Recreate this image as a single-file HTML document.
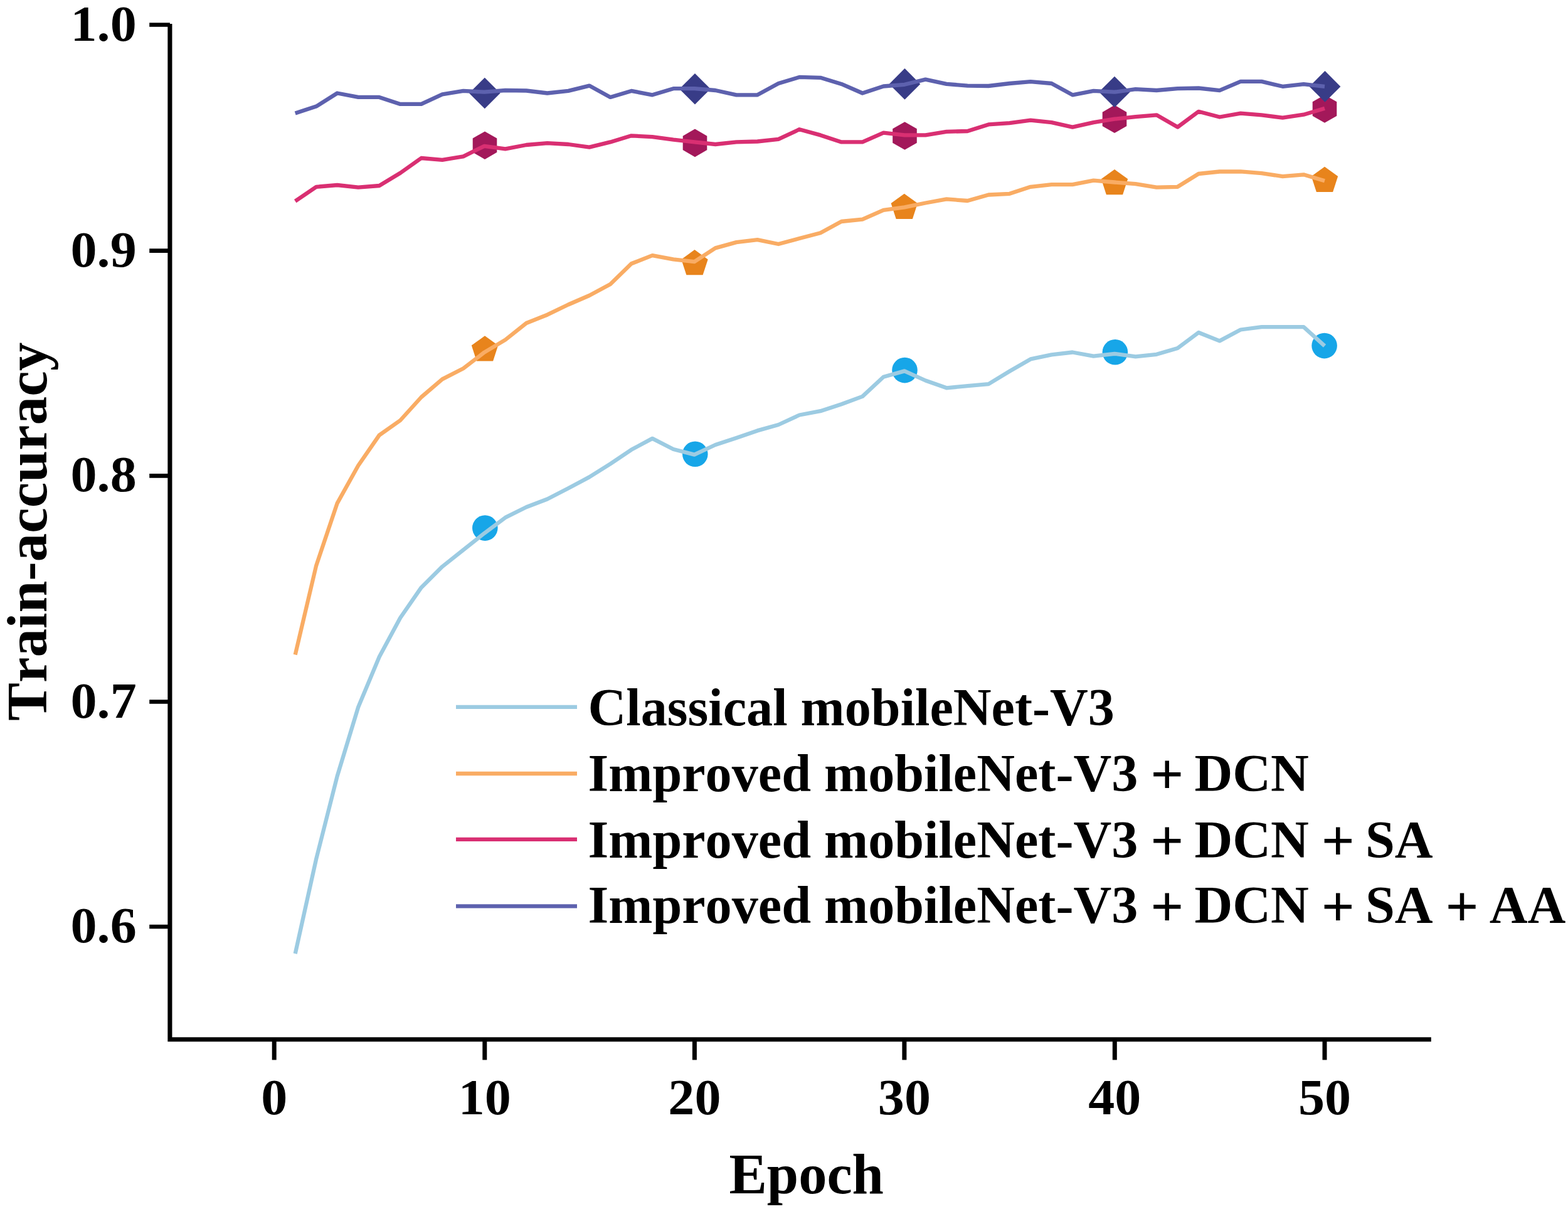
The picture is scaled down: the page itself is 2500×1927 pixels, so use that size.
<!DOCTYPE html>
<html><head><meta charset="utf-8"><title>Train-accuracy</title>
<style>
html,body{margin:0;padding:0;background:#fff;}
svg{display:block;}
text{font-kerning:none;font-family:"Liberation Serif","Times New Roman",serif;font-weight:bold;fill:#000;}
.tk{font-size:80.5px;}
.lg{font-size:84.2px;}
.ax{font-size:91.3px;}
</style></head>
<body>
<svg width="2500" height="1927" viewBox="0 0 2500 1927">
<rect width="2500" height="1927" fill="#fff"/>
<path d="M270.9,38 V1656.8 H2281.8" fill="none" stroke="#000" stroke-width="7.1" stroke-linecap="butt" stroke-linejoin="miter"/>
<line x1="238.2" y1="39.5" x2="270.9" y2="39.5" stroke="#000" stroke-width="6.7"/>
<text transform="translate(217.7,64.5) scale(1.045,1)" text-anchor="end" class="tk">1.0</text>
<line x1="238.2" y1="399.6" x2="270.9" y2="399.6" stroke="#000" stroke-width="6.7"/>
<text transform="translate(217.7,424.6) scale(1.045,1)" text-anchor="end" class="tk">0.9</text>
<line x1="238.2" y1="758.3" x2="270.9" y2="758.3" stroke="#000" stroke-width="6.7"/>
<text transform="translate(217.7,783.3) scale(1.045,1)" text-anchor="end" class="tk">0.8</text>
<line x1="238.2" y1="1118.5" x2="270.9" y2="1118.5" stroke="#000" stroke-width="6.7"/>
<text transform="translate(217.7,1143.5) scale(1.045,1)" text-anchor="end" class="tk">0.7</text>
<line x1="238.2" y1="1477" x2="270.9" y2="1477" stroke="#000" stroke-width="6.7"/>
<text transform="translate(217.7,1502.0) scale(1.045,1)" text-anchor="end" class="tk">0.6</text>
<line x1="437.2" y1="1656.8" x2="437.2" y2="1689.4" stroke="#000" stroke-width="7"/>
<text transform="translate(437.2,1776) scale(1.045,1)" text-anchor="middle" class="tk">0</text>
<line x1="772.8" y1="1656.8" x2="772.8" y2="1689.4" stroke="#000" stroke-width="7"/>
<text transform="translate(772.8,1776) scale(1.045,1)" text-anchor="middle" class="tk">10</text>
<line x1="1107.4" y1="1656.8" x2="1107.4" y2="1689.4" stroke="#000" stroke-width="7"/>
<text transform="translate(1107.4,1776) scale(1.045,1)" text-anchor="middle" class="tk">20</text>
<line x1="1441.9" y1="1656.8" x2="1441.9" y2="1689.4" stroke="#000" stroke-width="7"/>
<text transform="translate(1441.9,1776) scale(1.045,1)" text-anchor="middle" class="tk">30</text>
<line x1="1777.3" y1="1656.8" x2="1777.3" y2="1689.4" stroke="#000" stroke-width="7"/>
<text transform="translate(1777.3,1776) scale(1.045,1)" text-anchor="middle" class="tk">40</text>
<line x1="2112.0" y1="1656.8" x2="2112.0" y2="1689.4" stroke="#000" stroke-width="7"/>
<text transform="translate(2112.0,1776) scale(1.045,1)" text-anchor="middle" class="tk">50</text>

<circle cx="773.3" cy="841.6" r="20.3" fill="#17a6e8"/><polygon points="773.0,535.2 794.2,550.6 786.1,575.5 759.9,575.5 751.8,550.6" fill="#e8841c"/><polygon points="773.0,209.4 792.3,220.5 792.3,242.8 773.0,254.0 753.7,242.8 753.7,220.5" fill="#a3185a"/><polygon points="772.8,123.7 797.6,148.5 772.8,173.3 748.0,148.5" fill="#383c87"/><circle cx="1108.3" cy="723.8" r="20.3" fill="#17a6e8"/><polygon points="1107.5,398.0 1128.7,413.4 1120.6,438.3 1094.4,438.3 1086.3,413.4" fill="#e8841c"/><polygon points="1108.0,205.6 1127.3,216.8 1127.3,239.1 1108.0,250.2 1088.7,239.1 1088.7,216.8" fill="#a3185a"/><polygon points="1108.0,116.9 1132.8,141.7 1108.0,166.5 1083.2,141.7" fill="#383c87"/><circle cx="1442.5" cy="590.1" r="20.3" fill="#17a6e8"/><polygon points="1441.8,308.7 1463.0,324.1 1454.9,349.0 1428.7,349.0 1420.6,324.1" fill="#e8841c"/><polygon points="1442.5,194.2 1461.8,205.3 1461.8,227.7 1442.5,238.8 1423.2,227.7 1423.2,205.3" fill="#a3185a"/><polygon points="1442.5,109.1 1467.3,133.9 1442.5,158.7 1417.7,133.9" fill="#383c87"/><circle cx="1777.9" cy="561.3" r="20.3" fill="#17a6e8"/><polygon points="1777.0,269.9 1798.2,285.3 1790.1,310.2 1763.9,310.2 1755.8,285.3" fill="#e8841c"/><polygon points="1777.0,167.5 1796.3,178.7 1796.3,201.0 1777.0,212.1 1757.7,201.0 1757.7,178.7" fill="#a3185a"/><polygon points="1777.0,121.7 1801.8,146.5 1777.0,171.3 1752.2,146.5" fill="#383c87"/><circle cx="2111.6" cy="551.1" r="20.3" fill="#17a6e8"/><polygon points="2112.0,265.7 2133.2,281.1 2125.1,306.0 2098.9,306.0 2090.8,281.1" fill="#e8841c"/><polygon points="2112.0,151.2 2131.3,162.3 2131.3,184.7 2112.0,195.8 2092.7,184.7 2092.7,162.3" fill="#a3185a"/><polygon points="2112.5,113.1 2137.3,137.9 2112.5,162.7 2087.7,137.9" fill="#383c87"/>

<polyline points="470.7,1520.0 504.2,1369.0 537.7,1237.0 571.2,1127.0 604.7,1047.0 638.2,984.7 671.7,936.4 705.2,903.1 738.7,876.5 772.2,849.9 805.7,824.9 839.2,808.3 872.6,795.5 906.1,778.3 939.6,760.4 973.1,739.4 1006.6,716.8 1040.1,698.9 1073.6,716.0 1107.1,724.6 1140.6,709.0 1174.1,698.0 1207.6,686.4 1241.1,677.0 1274.6,661.5 1308.1,655.2 1341.6,644.3 1375.1,631.9 1408.6,600.7 1442.1,591.4 1475.6,606.5 1509.1,618.3 1542.6,615.2 1576.1,612.1 1609.6,591.8 1643.1,572.4 1676.6,565.4 1710.0,561.5 1743.5,567.7 1777.0,563.8 1810.5,568.4 1844.0,564.8 1877.5,555.0 1911.0,530.0 1944.5,543.4 1978.0,525.5 2011.5,521.1 2045.0,521.1 2078.5,521.1 2112.0,551.4" fill="none" stroke="#9ccbe2" stroke-width="6.3" stroke-linejoin="round" stroke-linecap="butt"/>
<polyline points="470.7,1043.5 504.2,901.4 537.7,802.1 571.2,742.0 604.7,693.6 638.2,670.0 671.7,633.0 705.2,604.4 738.7,587.3 772.2,561.6 805.7,541.6 839.2,515.0 872.6,501.7 906.1,485.5 939.6,471.0 973.1,453.0 1006.6,420.3 1040.1,407.1 1073.6,413.3 1107.1,417.2 1140.6,395.4 1174.1,386.1 1207.6,382.2 1241.1,389.0 1274.6,380.0 1308.1,371.3 1341.6,353.0 1375.1,349.6 1408.6,334.8 1442.1,330.4 1475.6,323.5 1509.1,317.4 1542.6,320.0 1576.1,310.5 1609.6,308.8 1643.1,297.8 1676.6,294.1 1710.0,294.1 1743.5,287.7 1777.0,290.5 1810.5,293.2 1844.0,298.7 1877.5,297.8 1911.0,277.0 1944.5,273.5 1978.0,273.3 2011.5,276.1 2045.0,281.1 2078.5,278.3 2112.0,288.2" fill="none" stroke="#f9ac64" stroke-width="6.3" stroke-linejoin="round" stroke-linecap="butt"/>
<polyline points="470.7,320.7 504.2,297.8 537.7,295.0 571.2,298.7 604.7,296.0 638.2,275.8 671.7,252.0 705.2,254.8 738.7,249.3 772.2,232.8 805.7,237.4 839.2,231.0 872.6,228.2 906.1,230.0 939.6,234.6 973.1,226.4 1006.6,216.3 1040.1,218.1 1073.6,222.7 1107.1,226.4 1140.6,230.0 1174.1,226.4 1207.6,225.5 1241.1,221.8 1274.6,206.2 1308.1,215.4 1341.6,226.4 1375.1,226.4 1408.6,211.7 1442.1,215.4 1475.6,215.4 1509.1,209.9 1542.6,209.0 1576.1,198.4 1609.6,196.2 1643.1,191.6 1676.6,195.2 1710.0,202.6 1743.5,195.2 1777.0,189.7 1810.5,186.1 1844.0,183.3 1877.5,202.6 1911.0,177.8 1944.5,186.5 1978.0,180.6 2011.5,183.4 2045.0,187.7 2078.5,182.7 2112.0,172.7" fill="none" stroke="#d92f72" stroke-width="6.3" stroke-linejoin="round" stroke-linecap="butt"/>
<polyline points="470.7,180.6 504.2,169.6 537.7,148.5 571.2,154.9 604.7,154.9 638.2,165.9 671.7,165.9 705.2,150.4 738.7,144.9 772.2,146.7 805.7,144.0 839.2,144.5 872.6,148.5 906.1,144.9 939.6,136.6 973.1,154.9 1006.6,144.9 1040.1,151.3 1073.6,141.2 1107.1,141.2 1140.6,144.0 1174.1,151.3 1207.6,151.3 1241.1,133.0 1274.6,122.9 1308.1,123.8 1341.6,133.9 1375.1,148.5 1408.6,137.5 1442.1,134.8 1475.6,126.6 1509.1,133.9 1542.6,136.6 1576.1,137.0 1609.6,133.0 1643.1,130.2 1676.6,133.0 1710.0,151.3 1743.5,144.9 1777.0,146.7 1810.5,142.1 1844.0,144.0 1877.5,141.2 1911.0,140.5 1944.5,144.1 1978.0,129.9 2011.5,129.9 2045.0,137.8 2078.5,134.2 2112.0,137.8" fill="none" stroke="#5d61ae" stroke-width="6.3" stroke-linejoin="round" stroke-linecap="butt"/>

<line x1="727" y1="1126.8" x2="920" y2="1126.8" stroke="#9ccbe2" stroke-width="6.3"/>
<text x="937.5" y="1156" class="lg">Classical mobileNet-V3</text>
<line x1="727" y1="1233.0" x2="920" y2="1233.0" stroke="#f9ac64" stroke-width="6.3"/>
<text x="937.5" y="1261.1" class="lg">Improved mobileNet-V3 <tspan dx="-1.2" dy="4.2" style="font-size:93px">+</tspan><tspan dx="-3.8" dy="-4.2"> DCN</tspan></text>
<line x1="727" y1="1337.8" x2="920" y2="1337.8" stroke="#d92f72" stroke-width="6.3"/>
<text x="937.5" y="1367.2" class="lg">Improved mobileNet-V3 <tspan dx="-1.2" dy="4.2" style="font-size:93px">+</tspan><tspan dx="-3.8" dy="-4.2"> DCN</tspan> <tspan dx="-1.2" dy="4.2" style="font-size:93px">+</tspan><tspan dx="-3.8" dy="-4.2"> SA</tspan></text>
<line x1="727" y1="1444.4" x2="920" y2="1444.4" stroke="#5d61ae" stroke-width="6.3"/>
<text x="937.5" y="1471.4" class="lg">Improved mobileNet-V3 <tspan dx="-1.2" dy="4.2" style="font-size:93px">+</tspan><tspan dx="-3.8" dy="-4.2"> DCN</tspan> <tspan dx="-1.2" dy="4.2" style="font-size:93px">+</tspan><tspan dx="-3.8" dy="-4.2"> SA</tspan> <tspan dx="-1.2" dy="4.2" style="font-size:93px">+</tspan><tspan dx="-3.8" dy="-4.2"> AA</tspan></text>

<text x="1162.5" y="1902" class="ax" style="font-size:90.5px">Epoch</text>
<text transform="translate(73.5,1149) rotate(-90)" class="ax">Train-accuracy</text>
</svg>
</body></html>
